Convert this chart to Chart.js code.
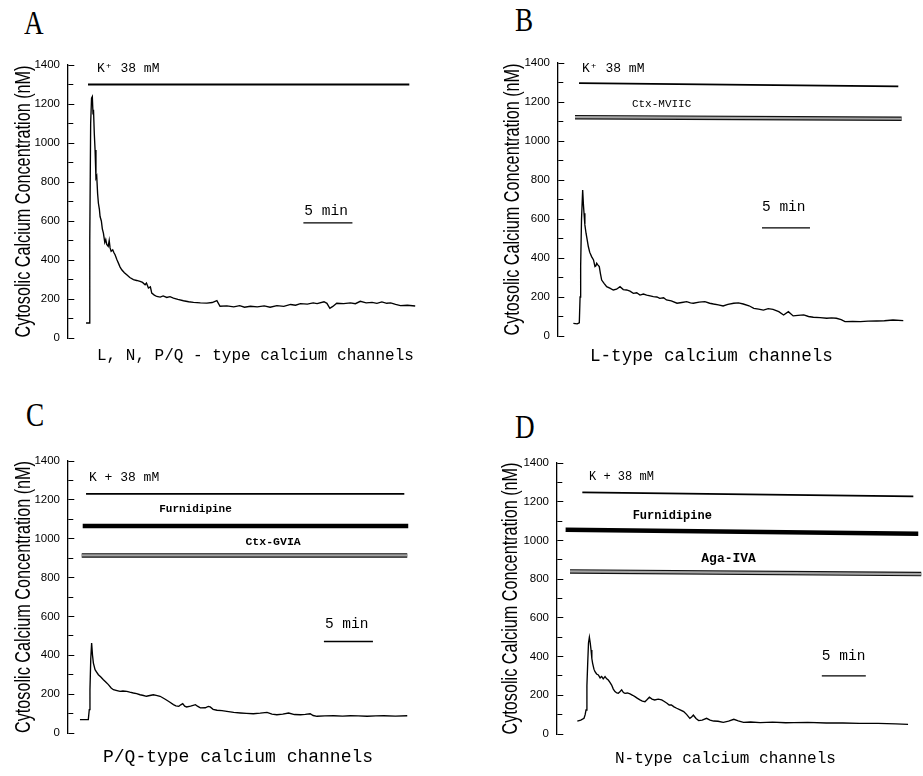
<!DOCTYPE html>
<html>
<head>
<meta charset="utf-8">
<script src="https://cdn.jsdelivr.net/npm/chart.js@4.4.1/dist/chart.umd.min.js"></script>
<style>
  body { margin: 0; background: #fff; width: 923px; height: 776px; position: relative; overflow: hidden; }
  canvas { position: absolute; }
  .letter { position: absolute; font-family: "Liberation Serif", serif; font-size: 34px; line-height: 34px; transform: scaleX(0.8); transform-origin: left top; }
  .sub { position: absolute; font-family: "Liberation Mono", monospace; line-height: 1; white-space: pre; }
</style>
</head>
<body>
<div class="letter" style="left:24px;top:6px">A</div>
<div class="letter" style="left:515px;top:3px">B</div>
<div class="letter" style="left:26px;top:398px">C</div>
<div class="letter" style="left:515px;top:410px">D</div>

<canvas id="chartA" width="460" height="380" style="left:0;top:0"></canvas>
<canvas id="chartB" width="463" height="380" style="left:460px;top:0"></canvas>
<canvas id="chartC" width="460" height="386" style="left:0;top:390px"></canvas>
<canvas id="chartD" width="463" height="386" style="left:460px;top:390px"></canvas>

<div class="sub" style="left:97px;top:348px;font-size:16px">L, N, P/Q - type calcium channels</div>
<div class="sub" style="left:590px;top:348px;font-size:17.6px">L-type calcium channels</div>
<div class="sub" style="left:103px;top:748px;font-size:18px">P/Q-type calcium channels</div>
<div class="sub" style="left:615px;top:751px;font-size:16px">N-type calcium channels</div>

<script>
// time in minutes, cytosolic calcium in nM
const traceA = [[1.84,77],[2.15,77],[2.22,500],[2.31,1100],[2.4,1230],[2.48,1238],[2.55,1150],[2.6,1170],[2.68,1050],
  [2.76,964],[2.85,820],[2.93,830],[3.02,740],[3.1,691],[3.2,660],[3.27,623],[3.4,600],[3.5,560],[3.61,538],[3.75,490],
  [3.85,505],[3.95,480],[4.1,470],[4.2,500],[4.29,462],[4.4,445],[4.56,452],[4.7,436],[4.8,427],[5.0,400],[5.14,384],
  [5.3,365],[5.48,350],[5.75,335],[5.99,324],[6.3,310],[6.67,299],[7.0,295],[7.35,290],[7.6,285],[7.86,273],[8.0,282],
  [8.2,256],[8.4,262],[8.54,230],[8.8,220],[9.05,213],[9.4,210],[9.7,216],[10.07,208],[10.4,212],[10.75,205],[11.2,198],
  [11.77,191],[12.3,186],[12.8,183],[13.5,180],[14.16,179],[14.7,182],[15.18,192],[15.5,163],[16.2,165],[16.9,160],
  [17.5,166],[18.0,158],[18.6,163],[19.3,160],[20.0,165],[20.6,158],[21.3,166],[22.0,162],[22.7,172],[23.2,168],
  [23.7,176],[24.4,174],[25.0,180],[25.4,176],[26.1,186],[26.4,178],[26.7,152],[27.0,162],[27.4,178],[28.1,176],
  [28.8,180],[29.3,176],[29.8,188],[30.4,180],[31.0,183],[31.5,178],[32.0,185],[32.5,178],[32.9,180],[33.4,172],
  [33.9,166],[34.6,168],[35.4,164]]

const traceB = [[1.6,65],[2.0,62],[2.22,68],[2.3,200],[2.36,356],[2.45,600],[2.57,749],[2.64,680],[2.71,630],[2.8,570],
  [2.92,527],[3.05,490],[3.16,459],[3.3,430],[3.5,407],[3.7,390],[3.85,356],[3.95,360],[4.03,373],[4.15,365],[4.3,356],
  [4.42,320],[4.55,287],[4.8,270],[5.07,253],[5.4,245],[5.76,236],[6.1,240],[6.46,253],[6.8,238],[7.15,236],[7.5,230],
  [7.85,219],[8.2,222],[8.54,210],[8.9,215],[9.24,210],[9.6,206],[9.93,202],[10.3,200],[10.6,193],[11.0,196],[11.3,185],
  [11.8,180],[12.4,168],[12.9,172],[13.4,176],[13.8,170],[14.1,168],[14.7,174],[15.3,176],[15.8,168],[16.2,164],
  [16.7,160],[17.2,154],[17.7,162],[18.3,168],[18.8,170],[19.3,164],[19.9,155],[20.4,142],[20.9,138],[21.4,133],
  [21.9,140],[22.4,137],[23.0,125],[23.5,108],[24.0,125],[24.5,103],[25.0,106],[25.6,108],[26.1,100],[26.6,96],
  [27.3,94],[28.0,91],[28.5,93],[29.0,91],[29.5,84],[29.9,74],[30.7,75],[31.5,74],[32.3,76],[33.2,77],[34.0,78],
  [34.9,82],[35.97,79]]

const traceC = [[1.22,69],[2.07,69],[2.17,120],[2.24,223],[2.32,380],[2.41,463],[2.5,400],[2.59,360],[2.76,326],
  [2.9,315],[3.1,300],[3.35,288],[3.61,274],[3.85,262],[4.12,249],[4.4,232],[4.63,223],[5.0,218],[5.31,214],[5.6,216],
  [6.0,214],[6.3,210],[6.67,206],[7.0,203],[7.35,197],[7.7,193],[8.0,189],[8.35,193],[8.7,197],[9.0,194],[9.39,189],
  [9.7,180],[10.0,171],[10.4,158],[10.75,146],[11.0,140],[11.3,137],[11.5,145],[11.7,151],[11.9,138],[12.1,134],
  [12.5,138],[13.0,146],[13.2,138],[13.5,129],[14.0,130],[14.3,137],[14.5,134],[14.8,122],[15.2,117],[15.7,115],
  [16.2,111],[16.9,106],[17.6,103],[18.2,101],[18.9,99],[19.6,102],[20.3,106],[20.8,97],[21.3,94],[21.9,97],[22.5,103],
  [23.1,95],[23.7,94],[24.2,96],[24.7,99],[25.0,90],[25.4,86],[26.2,88],[27.1,89],[28.0,87],[28.8,89],[29.6,88],
  [30.5,86],[31.4,88],[32.2,89],[33.4,87],[34.6,89]]

const traceD = [[2.31,67],[2.7,72],[3.07,81],[3.2,100],[3.3,124],[3.4,250],[3.49,365],[3.58,470],[3.68,500],[3.78,470],
  [3.87,434],[3.96,390],[4.05,365],[4.2,335],[4.32,322],[4.5,310],[4.7,305],[4.9,290],[5.08,297],[5.25,285],[5.46,297],
  [5.65,285],[5.83,279],[6.0,268],[6.21,253],[6.4,232],[6.59,219],[6.8,212],[6.97,210],[7.15,218],[7.35,228],[7.55,214],
  [7.73,210],[8.0,212],[8.3,207],[8.6,200],[8.86,193],[9.15,184],[9.43,176],[9.7,170],[10.0,167],[10.25,178],[10.5,190],
  [10.8,180],[11.1,176],[11.5,180],[11.9,176],[12.2,168],[12.5,159],[12.75,150],[13.0,150],[13.3,140],[13.6,133],
  [14.0,125],[14.4,116],[14.75,100],[15.1,81],[15.3,88],[15.5,98],[15.8,80],[16.1,69],[16.5,72],[17.0,81],[17.4,72],
  [17.8,67],[18.3,66],[18.9,60],[19.5,66],[20.1,76],[20.6,68],[21.2,60],[22.0,62],[23.1,59],[24.5,61],[26.0,58],
  [26.9,59],[28.5,60],[30.6,57],[32.5,57],[34.4,55],[36.5,55],[38.5,52],[39.9,50]]

// application bars: [start min, level], [end min, level]
const kBarA = [[2.04,1300],[34.8,1300]]
const kBarB = [[2.19,1297],[35.45,1280]]
const mviicBarB = [[1.77,1122],[35.8,1114]]
const kBarC = [[1.84,1231],[34.3,1231]]
const furniBarC = [[1.5,1066],[34.7,1066]]
const gviaBarC = [[1.4,914],[34.6,914]]
const kBarD = [[2.88,1248],[40.5,1228]]
const furniBarD = [[0.98,1055],[41.06,1034]]
const agaBarD = [[1.48,840],[41.4,826]]

// 5 min calibration bars
const fiveMinA = [[24.0,590],[29.0,590]]
const fiveMinB = [[21.25,554],[26.25,554]]
const fiveMinC = [[26.1,471],[31.1,471]]
const fiveMinD = [[30.1,300],[35.1,300]]

const yTitle = 'Cytosolic Calcium Concentration (nM)'

// in-plot text placed at (minute, nM)
const notesPlugin = {
  id: 'notes',
  afterDatasetsDraw(chart, args, opts) {
    const ctx = chart.ctx
    const xs = chart.scales.x, ys = chart.scales.y
    ctx.save()
    ctx.fillStyle = '#000'
    ctx.textAlign = 'left'
    ctx.textBaseline = 'middle'
    for (const n of (opts.items || [])) {
      ctx.font = n.font
      ctx.fillText(n.text, xs.getPixelForValue(n.t), ys.getPixelForValue(n.v))
    }
    ctx.restore()
  }
}

// tall condensed y title, like the original typesetting
const yTitlePlugin = {
  id: 'yTitle',
  afterDraw(chart, args, opts) {
    const ctx = chart.ctx
    const area = chart.chartArea
    ctx.save()
    ctx.fillStyle = '#000'
    ctx.font = '22px "Liberation Sans", Arial, sans-serif'
    ctx.textAlign = 'center'
    ctx.textBaseline = 'middle'
    const w = ctx.measureText(opts.text).width
    ctx.translate(opts.x, (area.top + area.bottom) / 2)
    ctx.rotate(-Math.PI / 2)
    ctx.scale(opts.length / w, 1)
    ctx.fillText(opts.text, 0, 0)
    ctx.restore()
  }
}

function seg(pts, width, color, order) {
  return {
    data: pts.map(p => ({x: p[0], y: p[1]})),
    borderColor: color,
    borderWidth: width,
    borderCapStyle: 'butt',
    pointRadius: 0,
    tension: 0,
    fill: false,
    order: order
  }
}

function thinBar(pts) { return [seg(pts, 1.8, '#000', 1)] }
function thickBar(pts) { return [seg(pts, 4.5, '#000', 1)] }
function greyBar(pts) { return [seg(pts, 4.5, '#111', 2), seg(pts, 2.2, '#a4a4a4', 1)] }

function makePanel(id, trace, bars, scaleBar, notes, axisW, pad, xMax, titleCenter) {
  const datasets = [seg(trace, 1.35, '#000', 0)]
  bars.forEach(b => datasets.push(...b))
  datasets.push(seg(scaleBar, 1.3, '#000', 1))
  return new Chart(document.getElementById(id), {
    type: 'line',
    data: { datasets: datasets },
    options: {
      responsive: false,
      animation: false,
      events: [],
      layout: { padding: { left: 0, top: pad[0], right: pad[1], bottom: pad[2] } },
      plugins: {
        legend: { display: false },
        tooltip: { enabled: false },
        notes: { items: notes },
        yTitle: { text: yTitle, x: titleCenter, length: 272 }
      },
      scales: {
        x: { type: 'linear', display: false, min: 0, max: xMax },
        y: {
          min: 0,
          max: 1400,
          afterFit: s => { s.width = axisW },
          ticks: {
            stepSize: 100,
            autoSkip: false,
            padding: 8,
            color: '#000',
            font: { family: '"Liberation Sans", Arial, sans-serif', size: 11.5 },
            callback: v => (v % 200 === 0 ? v : '')
          },
          grid: { drawTicks: false, drawOnChartArea: true, color: '#000', lineWidth: 1 },
          border: {
            display: true, color: '#000', width: 1.3,
            dash: c => (c.tick && c.tick.value % 200 !== 0 ? [5, 3000] : [6, 3000])
          },
          title: { display: false }
        }
      }
    },
    plugins: [notesPlugin, yTitlePlugin]
  })
}

const labelFont = '13px "Liberation Mono", "DejaVu Sans Mono", monospace'
const minFont = '14.5px "Liberation Mono", "DejaVu Sans Mono", monospace'

makePanel('chartA', traceA, [thinBar(kBarA)], fiveMinA, [
  {text: 'K\u207A 38 mM', t: 2.96, v: 1383, font: labelFont},
  {text: '5 min', t: 24.1, v: 651, font: minFont}
], 68, [65, 35, 42], 36.4, 24)

makePanel('chartB', traceB, [thinBar(kBarB), greyBar(mviicBarB)], fiveMinB, [
  {text: 'K\u207A 38 mM', t: 2.5, v: 1374, font: labelFont},
  {text: 'Ctx-MVIIC', t: 7.7, v: 1190, font: '11px "Liberation Mono", monospace'},
  {text: '5 min', t: 21.25, v: 661, font: minFont}
], 98, [63, 13, 44], 36.67, 53)

makePanel('chartC', traceC, [thinBar(kBarC), thickBar(furniBarC), greyBar(gviaBarC)], fiveMinC, [
  {text: 'K + 38 mM', t: 2.14, v: 1316, font: labelFont},
  {text: 'Furnidipine', t: 9.3, v: 1152, font: 'bold 11px "Liberation Mono", monospace'},
  {text: 'Ctx-GVIA', t: 18.1, v: 982, font: 'bold 11.5px "Liberation Mono", monospace'},
  {text: '5 min', t: 26.2, v: 560, font: minFont}
], 68, [71, 40, 43], 35.9, 24)

makePanel('chartD', traceD, [thinBar(kBarD), thickBar(furniBarD), greyBar(agaBarD)], fiveMinD, [
  {text: 'K + 38 mM', t: 3.64, v: 1327, font: '12px "Liberation Mono", monospace'},
  {text: 'Furnidipine', t: 8.6, v: 1124, font: 'bold 12px "Liberation Mono", monospace'},
  {text: 'Aga-IVA', t: 16.4, v: 908, font: 'bold 13px "Liberation Mono", monospace'},
  {text: '5 min', t: 30.1, v: 400, font: minFont}
], 97, [73, 0, 42], 41.6, 51)
</script>
</body>
</html>
